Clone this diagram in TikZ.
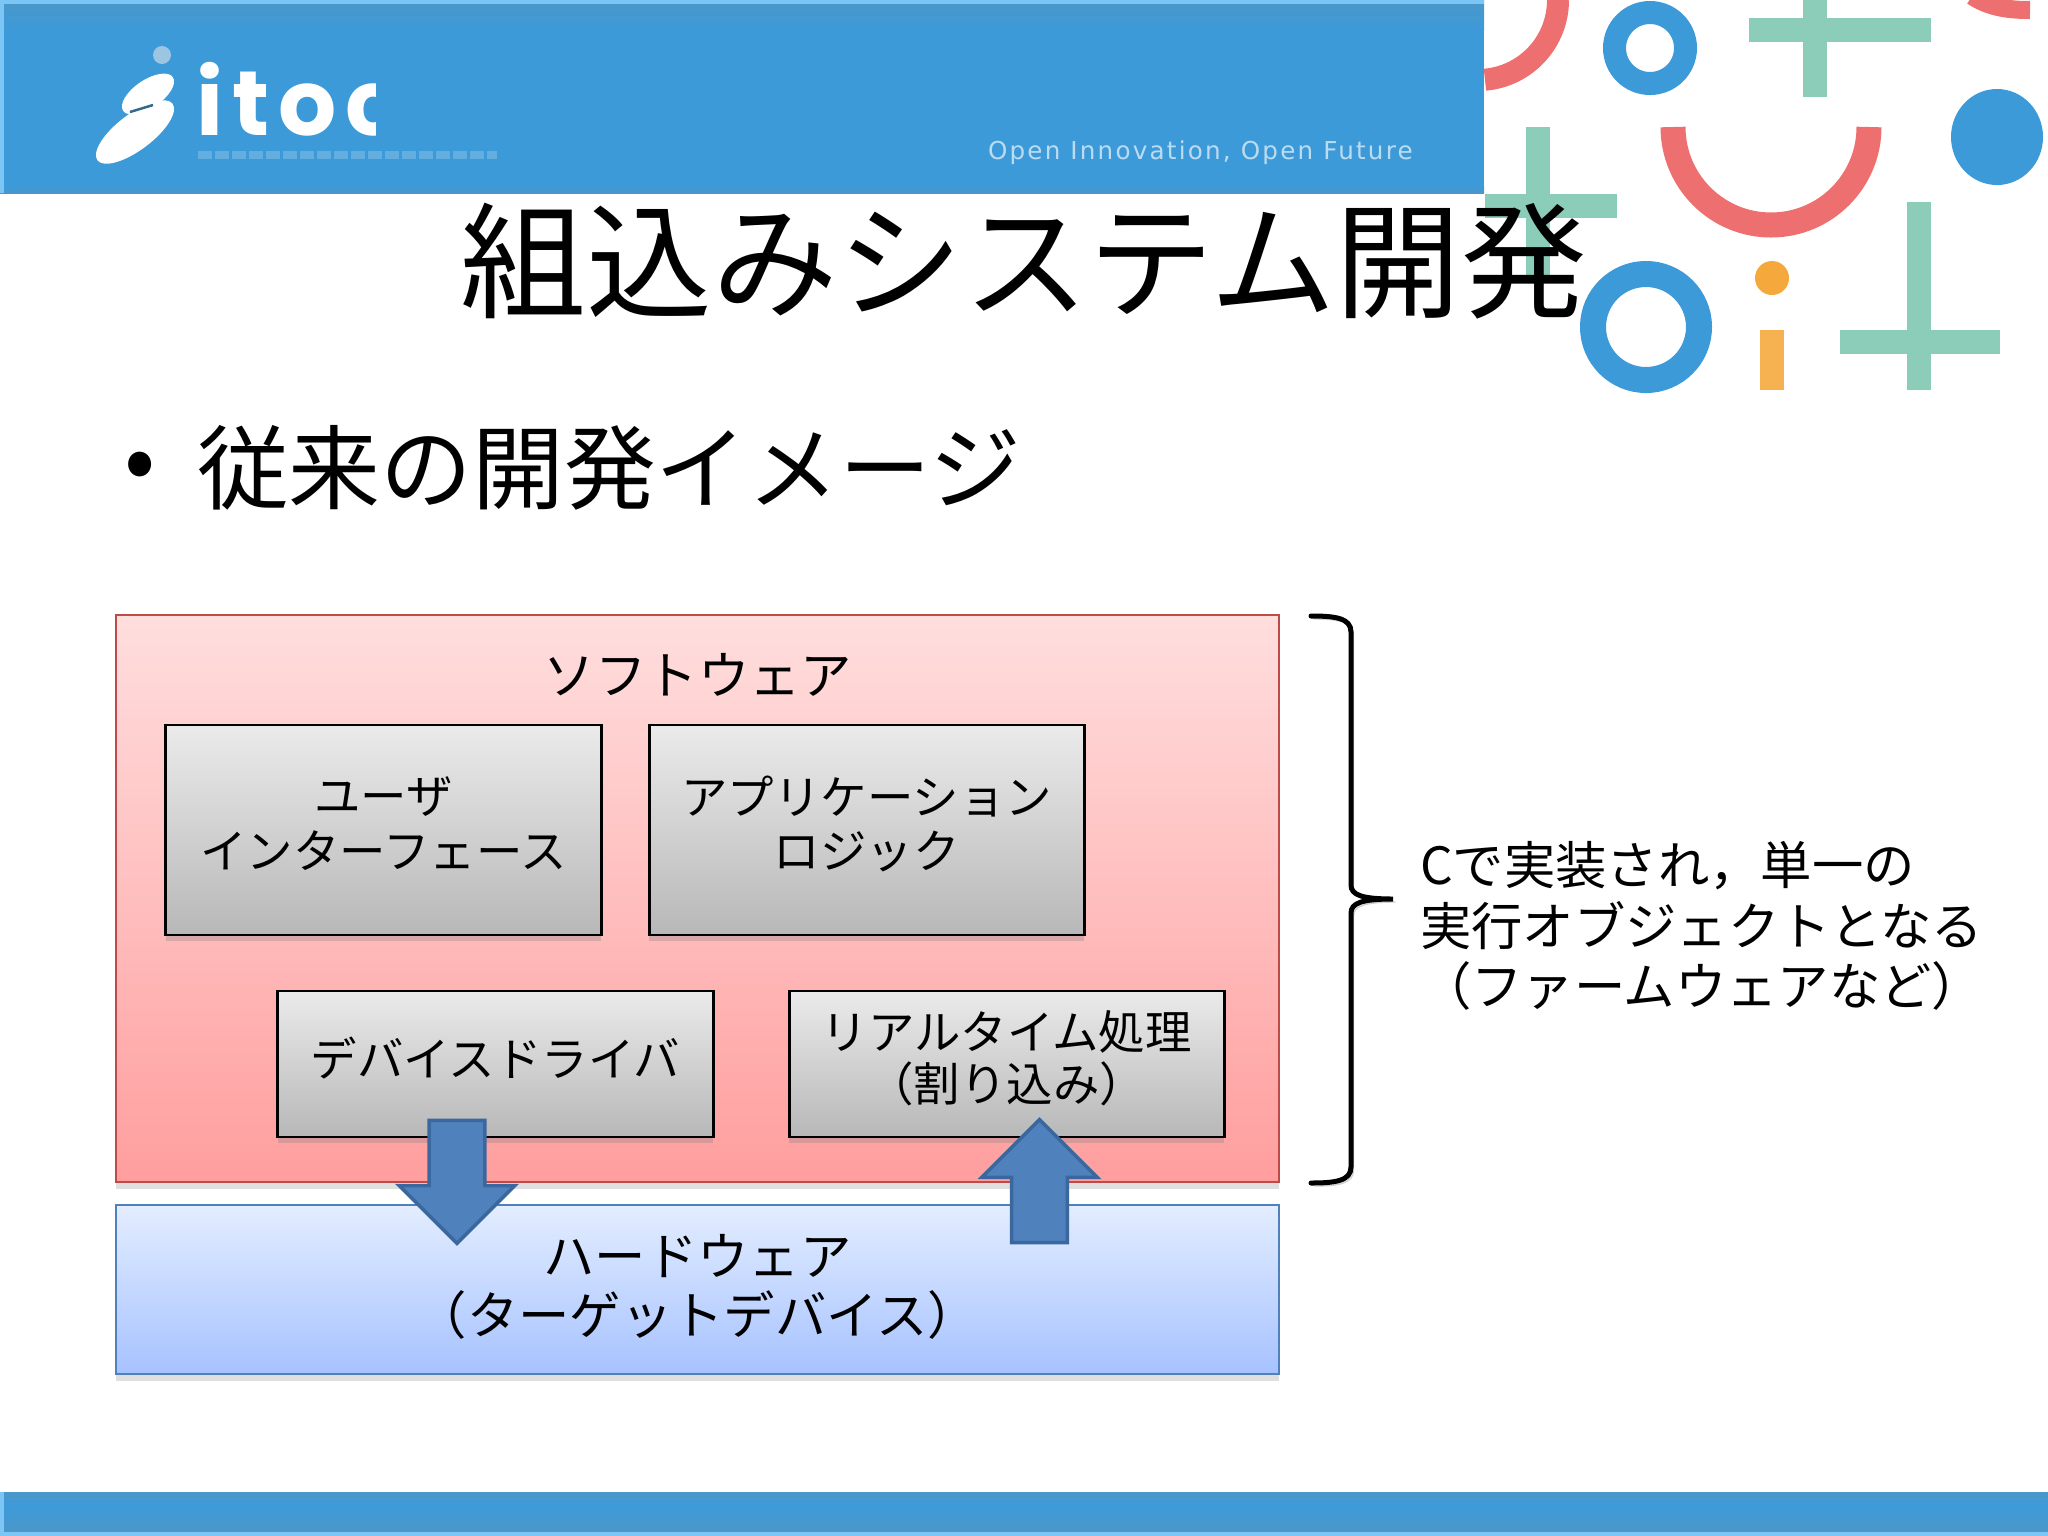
\documentclass[tikz,border=0pt]{standalone}
\usepackage{xcolor}
\usepackage{fontspec}
\setmainfont{Noto Sans CJK JP}
\newfontfamily\logofont[LetterSpace=10]{Poppins}
\newfontfamily\tagfont[LetterSpace=9]{DejaVu Sans}
\usetikzlibrary{positioning,shapes.arrows,shadows}
\definecolor{itocblue}{HTML}{3D9AD9}
\definecolor{itocdeep}{HTML}{4B97C8}
\definecolor{itoclight}{HTML}{7CC6F5}
\definecolor{itocgreen}{HTML}{8BCDB9}
\definecolor{itocred}{HTML}{EE6F6F}
\definecolor{itocorange}{HTML}{F5A83C}
\definecolor{arrowfill}{HTML}{4F81BD}
\definecolor{arrowedge}{HTML}{3A689E}
\definecolor{softtop}{HTML}{FFDEDE}
\definecolor{softbottom}{HTML}{FF9E9E}
\definecolor{softedge}{HTML}{BE4B48}
\definecolor{hardtop}{HTML}{E3EDFF}
\definecolor{hardbottom}{HTML}{A6C2FF}

\begin{document}
\begin{tikzpicture}[x=0.01cm,y=-0.01cm,inner sep=0pt,outer sep=0pt]
  \tikzstyle{layer}=[draw,line width=0.02cm,minimum width=11.63cm,align=center,
    font=\fontsize{14.6}{16.8}\selectfont,
    drop shadow={shadow xshift=0cm,shadow yshift=-0.07cm,opacity=.25}]
  \tikzstyle{module}=[draw=black,line width=0.028cm,minimum width=4.35cm,
    top color=black!8,bottom color=black!28,
    drop shadow={shadow xshift=0cm,shadow yshift=-0.06cm,opacity=.3}]
  \tikzstyle{modtext}=[yshift=0.06cm,align=center,font=\fontsize{13.2}{15.6}\selectfont]
  \tikzstyle{flow}=[single arrow,draw=arrowedge,fill=arrowfill,line width=0.035cm,inner sep=0.26cm,
    minimum width=1.14cm,minimum height=1.23cm,single arrow head extend=0.3cm,
    single arrow head indent=0cm]
  \tikzstyle{bar}=[line width=0.24cm,itocgreen]
  \useasboundingbox (0,0) rectangle (2048,1536);

  \draw[line width=0.22cm,itocred] (1558,0) arc[start angle=0,end angle=85,radius=80];
  \draw[line width=0.18cm,itocred] (1972,-4) .. controls (1990,8) and (2010,10) .. (2030,10);
  \draw[line width=0.25cm,itocred] (1869,127) arc[start angle=0,end angle=180,radius=98];
  \draw[line width=0.23cm,itocblue] (1650,48) circle[radius=35.5];
  \draw[line width=0.26cm,itocblue] (1646,327) circle[radius=53];
  \fill[itocblue] (1997,137) ellipse[x radius=46,y radius=48];
  \fill[itocorange] (1772,278) circle[radius=17];
  \fill[itocorange!90!white] (1760,330) rectangle (1784,390);
  \draw[bar] (1749,30) -- (1931,30);
  \draw[bar] (1815,0) -- (1815,97);
  \draw[bar] (1538,127) -- (1538,283);
  \draw[bar] (1485,206) -- (1617,206);
  \draw[bar] (1919,202) -- (1919,390);
  \draw[bar] (1840,342) -- (2000,342);

  \fill[top color=itocdeep,bottom color=itocblue] (0,0) rectangle (1484,30);
  \fill[itocblue] (0,30) rectangle (1484,186);
  \fill[top color=itocblue,bottom color=itocdeep] (0,186) rectangle (1484,193);
  \fill[itoclight] (0,0) rectangle (1484,4);
  \fill[itoclight] (0,0) rectangle (4,193);
  \fill[top color=itocdeep,bottom color=itocblue] (0,1492) rectangle (2048,1505);
  \fill[top color=itocblue,bottom color=itocdeep] (0,1505) rectangle (2048,1532);
  \fill[itoclight] (0,1532) rectangle (2048,1536);
  \fill[itoclight] (0,1492) rectangle (4,1536);

  \fill[white,rotate around={37:(135,132)}] (135,132) ellipse[x radius=47,y radius=18];
  \fill[white,rotate around={34:(148,94)}] (148,94) ellipse[x radius=30,y radius=14];
  \fill[black!10!itocblue!50!white] (162,55) circle[radius=9];
  \draw[line width=0.025cm,itocdeep!70!black] (130,112) -- (153,105);
  \begin{scope}
    \clip (190,60) rectangle (375,150);
    \node[anchor=base west,white,font=\logofont\bfseries\fontsize{26}{30}\selectfont] (logo) at (196,135) {itoc};
  \end{scope}
  \draw[line width=0.08cm,white,opacity=.2,dash pattern=on 0.14cm off 0.03cm] (198,155) -- (497,155);
  \node[anchor=west,white,opacity=.65,font=\tagfont\fontsize{7}{8}\selectfont] (motto) at (988,153) {Open Innovation, Open Future};

  \node[font=\fontsize{35.7}{40}\selectfont] (title) at (1024,261) {組込みシステム開発};
  \node[font=\fontsize{26.1}{30}\selectfont] (dot) at (140,472) {•};
  \node[anchor=west,font=\fontsize{26.1}{30}\selectfont] (lead) at (197,468) {従来の開発イメージ};

  \node[layer,draw=softedge,minimum height=5.67cm,top color=softtop,bottom color=softbottom] (soft) at (697.5,898.5) {};
  \node[layer,draw=arrowfill,minimum height=1.69cm,top color=hardtop,bottom color=hardbottom,below=0.23cm of soft,
    label={[yshift=0.025cm,align=center,font=\fontsize{14.6}{16.8}\selectfont]center:ハードウェア\\（ターゲットデバイス）}] (hard) {};
  \node[font=\fontsize{14.6}{17}\selectfont] (softname) at (698,675) {ソフトウェア};

  \node[module,minimum height=2.1cm,label={[modtext]center:ユーザ\\インターフェース}] (ui) at (383.5,830) {};
  \node[module,minimum height=2.1cm,right=0.48cm of ui,label={[modtext]center:アプリケーション\\ロジック}] (app) {};
  \node[module,minimum height=1.46cm,label={[modtext]center:デバイスドライバ}] (driver) at (495.5,1064) {};
  \node[module,minimum height=1.46cm,right=0.76cm of driver,
    label={[modtext,yshift=-0.005cm,font=\fontsize{13.2}{14.8}\selectfont]center:リアルタイム処理\\（割り込み）}] (rt) {};

  \node[flow,shape border rotate=270] (send) at (457,1168) {};
  \node[flow,shape border rotate=90] (irq) at (1039.5,1195) {};

  \coordinate (bt) at (1311,616);
  \coordinate (bm) at (1393,899);
  \coordinate (bb) at (1311,1183);
  \draw[line width=0.05cm,line cap=round,
    preaction={draw=black,opacity=.18,transform canvas={shift={(0.025cm,-0.03cm)}}}]
    (bt) .. controls (1335,616) and (1351,618) .. (1351,632) -- (1351,885)
    .. controls (1351,895) and (1362,899) .. (bm)
    .. controls (1362,899) and (1351,903) .. (1351,913) -- (1351,1167)
    .. controls (1351,1181) and (1335,1183) .. (bb);

  \node[anchor=west,align=left,font=\fontsize{14.6}{17.2}\selectfont] (note) at (1420,926) {Cで実装され，単一の\\実行オブジェクトとなる\\（ファームウェアなど）};
\end{tikzpicture}
\end{document}
